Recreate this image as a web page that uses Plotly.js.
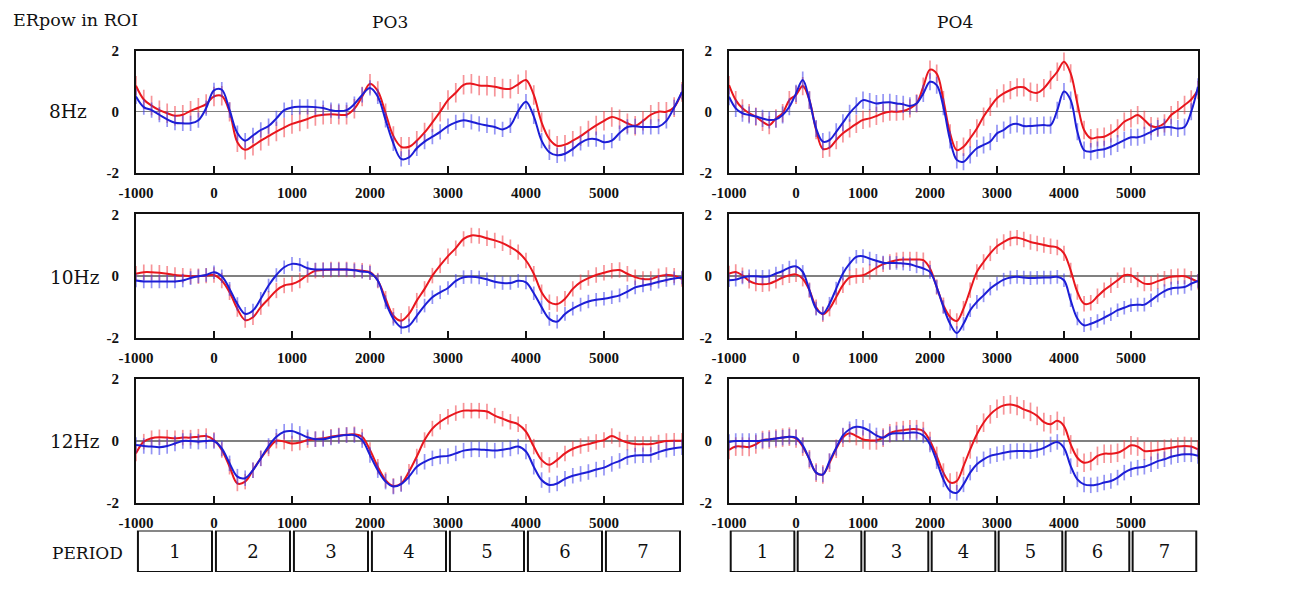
<!DOCTYPE html>
<html>
<head>
<meta charset="utf-8">
<script src="https://cdn.plot.ly/plotly-3.0.1.min.js"></script>
<style>
  body { margin: 0; background: #fff; }
  #myChart { width: 1300px; height: 591px; }
</style>
</head>
<body>
<div id="myChart"></div>
<script>
// time axis, ms (one sample every 100 ms)
var times = [-1000,-900,-800,-700,-600,-500,-400,-300,-200,-100,
  0,100,200,300,400,500,600,700,800,900,
  1000,1100,1200,1300,1400,1500,1600,1700,1800,1900,
  2000,2100,2200,2300,2400,2500,2600,2700,2800,2900,
  3000,3100,3200,3300,3400,3500,3600,3700,3800,3900,
  4000,4100,4200,4300,4400,4500,4600,4700,4800,4900,
  5000,5100,5200,5300,5400,5500,5600,5700,5800,5900,
  6000];

var xTicks = [-1000, 0, 1000, 2000, 3000, 4000, 5000];
var xTickText = ['-1000', '0', '1000', '2000', '3000', '4000', '5000'];
var yTicks = [-2, 0, 2];
var yTickText = ['-2', '0', '2'];

// PO3
var po3_8_red = [0.85,0.4,0.2,0.05,-0.05,-0.13,-0.1,0.03,0.13,0.25,
  0.5,0.52,0.0,-1.0,-1.25,-1.12,-0.95,-0.8,-0.65,-0.52,
  -0.4,-0.32,-0.24,-0.14,-0.1,-0.08,-0.1,-0.1,0.1,0.5,
  0.92,0.68,-0.05,-0.8,-1.15,-1.15,-0.95,-0.68,-0.35,0.0,
  0.38,0.62,0.88,0.92,0.86,0.85,0.82,0.76,0.75,0.9,
  1.04,0.55,-0.35,-0.9,-1.12,-1.08,-0.95,-0.8,-0.62,-0.45,
  -0.3,-0.17,-0.25,-0.38,-0.46,-0.3,-0.1,0.0,0.0,0.15,
  0.65];
var po3_8_blue = [0.5,0.15,0.05,-0.1,-0.25,-0.36,-0.38,-0.38,-0.28,0.12,
  0.7,0.72,0.05,-0.7,-0.95,-0.78,-0.6,-0.47,-0.22,0.05,
  0.14,0.16,0.16,0.15,0.12,0.05,0.02,0.05,0.25,0.55,
  0.78,0.5,-0.27,-1.04,-1.55,-1.5,-1.2,-0.98,-0.82,-0.66,
  -0.47,-0.35,-0.28,-0.33,-0.4,-0.45,-0.5,-0.58,-0.45,0.02,
  0.33,-0.15,-0.95,-1.33,-1.43,-1.38,-1.22,-1.02,-0.9,-0.9,
  -1.0,-0.95,-0.7,-0.5,-0.48,-0.5,-0.5,-0.49,-0.3,0.14,
  0.65];
var po3_10_red = [0.08,0.13,0.13,0.11,0.08,0.04,0.02,0.0,0.0,0.02,
  0.04,-0.14,-0.52,-1.06,-1.42,-1.33,-1.0,-0.73,-0.46,-0.3,
  -0.25,-0.14,0.04,0.18,0.2,0.22,0.22,0.22,0.2,0.18,
  0.13,-0.14,-0.73,-1.28,-1.44,-1.22,-0.79,-0.41,0.02,0.35,
  0.65,0.91,1.21,1.32,1.3,1.23,1.16,1.07,0.94,0.78,
  0.51,0.08,-0.52,-0.84,-0.9,-0.73,-0.41,-0.19,-0.06,0.04,
  0.11,0.18,0.2,0.08,-0.03,-0.09,-0.09,0.0,0.04,0.02,
  -0.09];
var po3_10_blue = [-0.14,-0.17,-0.17,-0.17,-0.17,-0.17,-0.14,-0.06,0.0,0.04,
  0.13,0.0,-0.41,-0.9,-1.22,-1.11,-0.73,-0.3,0.04,0.29,
  0.4,0.37,0.26,0.22,0.22,0.22,0.22,0.22,0.19,0.15,
  0.11,-0.14,-0.84,-1.38,-1.65,-1.6,-1.28,-0.95,-0.68,-0.52,
  -0.38,-0.15,-0.03,-0.02,-0.04,-0.1,-0.18,-0.22,-0.22,-0.15,
  -0.2,-0.55,-1.0,-1.38,-1.47,-1.22,-1.05,-0.92,-0.82,-0.76,
  -0.73,-0.68,-0.62,-0.5,-0.36,-0.3,-0.25,-0.18,-0.12,-0.07,
  -0.04];
var po3_12_red = [-0.4,-0.02,0.09,0.12,0.11,0.09,0.11,0.11,0.14,0.16,
  0.03,-0.29,-0.83,-1.37,-1.31,-0.94,-0.56,-0.24,0.01,-0.02,
  -0.08,-0.05,0.03,0.06,0.09,0.14,0.18,0.2,0.22,0.14,
  -0.29,-0.83,-1.26,-1.45,-1.37,-0.99,-0.5,0.03,0.4,0.62,
  0.78,0.9,0.98,0.98,0.98,0.95,0.82,0.72,0.62,0.54,
  0.3,-0.18,-0.61,-0.77,-0.61,-0.4,-0.25,-0.16,-0.1,-0.03,
  0.03,0.16,0.05,-0.05,-0.1,-0.1,-0.1,-0.05,0.0,0.01,
  0.01];
var po3_12_blue = [-0.13,-0.16,-0.18,-0.2,-0.16,-0.08,0.0,0.0,-0.02,0.0,
  0.0,-0.24,-0.72,-1.15,-1.2,-0.94,-0.56,-0.16,0.14,0.3,
  0.32,0.23,0.12,0.06,0.06,0.11,0.16,0.19,0.19,0.03,
  -0.45,-0.94,-1.31,-1.47,-1.39,-1.15,-0.83,-0.67,-0.56,-0.5,
  -0.48,-0.4,-0.31,-0.27,-0.27,-0.29,-0.31,-0.28,-0.24,-0.18,
  -0.34,-0.83,-1.26,-1.42,-1.37,-1.22,-1.12,-1.06,-1.0,-0.92,
  -0.86,-0.74,-0.64,-0.52,-0.47,-0.46,-0.45,-0.36,-0.28,-0.23,
  -0.2];

// PO4
var po4_8_red = [0.87,0.38,0.11,-0.05,-0.16,-0.33,-0.44,-0.22,-0.05,0.38,
  0.55,0.84,0.38,-0.6,-1.22,-1.18,-0.93,-0.71,-0.55,-0.4,
  -0.27,-0.22,-0.14,-0.05,0.0,0.0,0.02,0.11,0.27,0.82,
  1.38,1.25,0.38,-0.71,-1.26,-1.15,-0.87,-0.55,-0.16,0.16,
  0.44,0.6,0.71,0.8,0.8,0.66,0.62,0.77,1.04,1.31,
  1.64,1.26,0.27,-0.6,-0.87,-0.84,-0.82,-0.71,-0.55,-0.33,
  -0.22,-0.11,-0.27,-0.47,-0.49,-0.38,-0.11,0.05,0.22,0.4,
  0.71];
var po4_8_blue = [0.49,0.11,-0.05,-0.11,-0.16,-0.22,-0.27,-0.25,-0.11,0.16,
  0.6,1.04,0.38,-0.55,-0.98,-0.93,-0.66,-0.36,-0.05,0.19,
  0.38,0.33,0.27,0.3,0.31,0.27,0.24,0.19,0.27,0.6,
  0.98,0.87,0.16,-0.93,-1.58,-1.64,-1.42,-1.2,-1.09,-0.98,
  -0.71,-0.6,-0.44,-0.4,-0.47,-0.47,-0.45,-0.44,-0.44,0.05,
  0.66,0.38,-0.66,-1.26,-1.31,-1.26,-1.23,-1.15,-1.04,-0.93,
  -0.84,-0.84,-0.77,-0.66,-0.55,-0.51,-0.51,-0.55,-0.5,0.0,
  0.82];
var po4_10_red = [0.09,0.14,0.03,-0.15,-0.24,-0.26,-0.24,-0.15,-0.04,0.03,
  0.06,-0.08,-0.45,-1.0,-1.23,-1.05,-0.67,-0.29,-0.04,0.01,
  0.03,0.14,0.28,0.39,0.46,0.52,0.54,0.54,0.54,0.52,
  0.25,-0.35,-0.94,-1.32,-1.45,-1.05,-0.45,0.14,0.46,0.74,
  0.97,1.11,1.22,1.25,1.19,1.11,1.06,1.01,0.97,0.93,
  0.74,0.19,-0.51,-0.89,-0.86,-0.65,-0.45,-0.29,-0.13,0.03,
  0.03,-0.11,-0.24,-0.24,-0.16,-0.08,-0.02,0.0,0.0,-0.08,
  -0.18];
var po4_10_blue = [-0.13,-0.11,-0.04,0.0,0.0,-0.02,0.0,0.09,0.17,0.28,
  0.32,0.14,-0.45,-1.05,-1.21,-0.89,-0.4,0.09,0.41,0.63,
  0.65,0.57,0.5,0.44,0.43,0.43,0.41,0.39,0.32,0.25,
  0.14,-0.35,-1.0,-1.54,-1.84,-1.54,-1.1,-0.83,-0.62,-0.4,
  -0.24,-0.11,-0.04,-0.02,-0.04,-0.06,-0.05,-0.04,-0.04,-0.02,
  -0.13,-0.78,-1.37,-1.59,-1.54,-1.45,-1.34,-1.23,-1.1,-1.02,
  -0.94,-0.92,-0.92,-0.78,-0.62,-0.48,-0.4,-0.37,-0.35,-0.24,
  -0.15];
var po4_12_red = [-0.29,-0.18,-0.18,-0.19,-0.11,0.03,0.05,0.08,0.11,0.14,
  0.08,-0.18,-0.59,-1.02,-1.08,-0.7,-0.25,0.11,0.25,0.16,
  0.05,0.02,0.02,0.11,0.25,0.32,0.35,0.38,0.38,0.32,
  0.0,-0.48,-1.02,-1.34,-1.29,-0.81,-0.27,0.22,0.59,0.86,
  1.04,1.15,1.18,1.13,1.02,0.94,0.81,0.61,0.54,0.65,
  0.48,-0.11,-0.54,-0.7,-0.65,-0.48,-0.41,-0.41,-0.38,-0.27,
  -0.14,-0.18,-0.32,-0.32,-0.29,-0.25,-0.22,-0.18,-0.16,-0.18,
  -0.27];
var po4_12_blue = [-0.03,0.0,0.0,0.0,0.0,0.02,0.05,0.08,0.11,0.14,
  0.11,-0.14,-0.59,-1.02,-1.08,-0.65,-0.22,0.18,0.38,0.46,
  0.43,0.32,0.18,0.11,0.22,0.25,0.25,0.27,0.27,0.18,
  -0.11,-0.65,-1.24,-1.61,-1.67,-1.4,-1.02,-0.75,-0.59,-0.48,
  -0.43,-0.38,-0.34,-0.32,-0.32,-0.33,-0.29,-0.22,-0.11,-0.03,
  -0.22,-0.81,-1.24,-1.4,-1.43,-1.4,-1.34,-1.29,-1.18,-1.02,
  -0.91,-0.86,-0.83,-0.75,-0.65,-0.59,-0.51,-0.46,-0.43,-0.43,
  -0.48];

// half-length of the error bars, one per panel (PO3 8/10/12, PO4 8/10/12)
var red_err = [0.32, 0.25, 0.25, 0.3, 0.25, 0.3];
var blue_err = [0.25, 0.22, 0.25, 0.28, 0.22, 0.25];

// period boxes under the plots
var period_centers = [-500, 500, 1500, 2500, 3500, 4500, 5500];
var period_labels = ['1', '2', '3', '4', '5', '6', '7'];
var period_heights = [1, 1, 1, 1, 1, 1, 1];

var red_series = [po3_8_red, po3_10_red, po3_12_red, po4_8_red, po4_10_red, po4_12_red];
var blue_series = [po3_8_blue, po3_10_blue, po3_12_blue, po4_8_blue, po4_10_blue, po4_12_blue];

var col_domains = [[0.1046, 0.5246], [0.5608, 0.9215]];
var row_domains = [[0.7078, 0.9142], [0.4281, 0.6371], [0.1489, 0.3587]];
var period_domain = [0.0321, 0.1024];

var tickFont = {family: 'Liberation Serif, Times New Roman, serif', size: 15, color: '#111', weight: 'bold'};
var textFamily = 'DejaVu Serif, serif';

var data = [];
var layout = {
  width: 1300,
  height: 591,
  margin: {l: 0, r: 0, t: 0, b: 0},
  paper_bgcolor: 'white',
  plot_bgcolor: 'white',
  showlegend: false,
  annotations: []
};

function make_xaxis(n, col) {
  return {
    domain: col_domains[col],
    anchor: 'y' + (n == 1 ? '' : n),
    range: [-1000, 6000],
    tickvals: xTicks,
    ticktext: xTickText,
    ticks: 'inside',
    ticklen: 7,
    tickwidth: 2,
    tickcolor: '#111',
    ticklabelstandoff: 5,
    tickfont: tickFont,
    showline: true,
    linecolor: '#111',
    linewidth: 2,
    mirror: true,
    showgrid: false,
    zeroline: false,
    fixedrange: true
  };
}

function make_yaxis(n, row) {
  return {
    domain: row_domains[row],
    anchor: 'x' + (n == 1 ? '' : n),
    range: [-2, 2],
    tickvals: yTicks,
    ticktext: yTickText,
    ticks: '',
    ticklabelstandoff: 12,
    tickfont: tickFont,
    showline: true,
    linecolor: '#111',
    linewidth: 2,
    mirror: true,
    showgrid: false,
    zeroline: true,
    zerolinecolor: '#808080',
    zerolinewidth: 1.5,
    fixedrange: true
  };
}

for (var i = 0; i < 6; i++) {
  var n = i + 1;
  var col = i < 3 ? 0 : 1;
  var row = i % 3;
  var suffix = n == 1 ? '' : n;
  layout['xaxis' + suffix] = make_xaxis(n, col);
  layout['yaxis' + suffix] = make_yaxis(n, row);

  data.push({
    x: times,
    y: red_series[i],
    xaxis: 'x' + suffix,
    yaxis: 'y' + suffix,
    type: 'scatter',
    mode: 'lines',
    line: {color: '#e8161d', width: 2, shape: 'spline'},
    error_y: {type: 'constant', value: red_err[i], color: 'rgba(238,60,70,0.55)', thickness: 1.7, width: 0},
    hoverinfo: 'skip'
  });
  data.push({
    x: times,
    y: blue_series[i],
    xaxis: 'x' + suffix,
    yaxis: 'y' + suffix,
    type: 'scatter',
    mode: 'lines',
    line: {color: '#1c1ed6', width: 2, shape: 'spline'},
    error_y: {type: 'constant', value: blue_err[i], color: 'rgba(60,60,235,0.55)', thickness: 1.7, width: 0},
    hoverinfo: 'skip'
  });
}

// period rows
for (var c = 0; c < 2; c++) {
  var pn = 7 + c;
  layout['xaxis' + pn] = {domain: col_domains[c], anchor: 'y' + pn, range: [-1000, 6000], visible: false, fixedrange: true};
  layout['yaxis' + pn] = {domain: period_domain, anchor: 'x' + pn, range: [0, 1], visible: false, fixedrange: true};
  data.push({
    type: 'bar',
    x: period_centers,
    y: period_heights,
    base: 0,
    width: 950,
    xaxis: 'x' + pn,
    yaxis: 'y' + pn,
    marker: {color: 'white', line: {color: '#111', width: 2}},
    text: period_labels,
    textposition: 'inside',
    insidetextanchor: 'middle',
    constraintext: 'none',
    textfont: {family: textFamily, size: 18, color: '#111'},
    hoverinfo: 'skip'
  });
}

function add_label(text, px, py, size, anchor) {
  layout.annotations.push({
    text: text,
    xref: 'paper', yref: 'paper',
    x: px / 1300, y: 1 - py / 591,
    xanchor: anchor, yanchor: 'middle',
    showarrow: false,
    font: {family: textFamily, size: size, color: '#111'}
  });
}

add_label('ERpow in ROI', 11, 20, 17.5, 'left');
add_label('PO3', 390, 22, 17, 'center');
add_label('PO4', 955, 22, 17, 'center');
add_label('8Hz', 68, 111, 18.5, 'center');
add_label('10Hz', 75, 277, 18.5, 'center');
add_label('12Hz', 75, 441, 18.5, 'center');
add_label('PERIOD', 87, 553, 17, 'center');

Plotly.newPlot('myChart', data, layout, {displayModeBar: false, staticPlot: true});
</script>
</body>
</html>
